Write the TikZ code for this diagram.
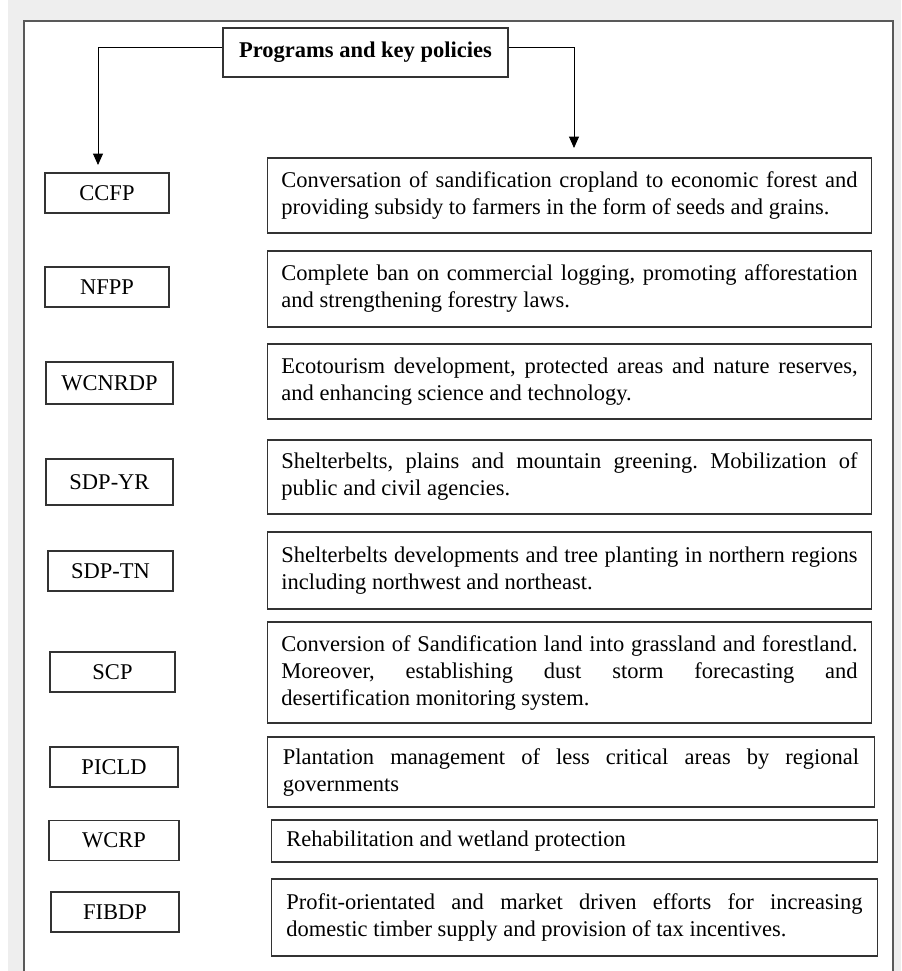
\documentclass[tikz,border=0pt]{standalone}
\usepackage{fontspec}
\setmainfont{Liberation Serif}
\usepackage{tikz}
\usetikzlibrary{positioning}
\usetikzlibrary{arrows.meta}
\definecolor{pagegray}{HTML}{EEEEEE}
\definecolor{linegray}{HTML}{333333}
\tikzset{
every node/.style={font=\fontsize{16}{19.2}\selectfont},
prog/.style={ % Sets the properties for each program box
draw=linegray,
line width=0.8pt,
inner sep=0pt,
minimum width=3.1cm,
minimum height=1cm},
policy/.style={ % Boxes with the key policies, justified text
draw=linegray,
line width=0.8pt,
text width=14.4cm,
align=justify,
inner xsep=0.3375cm,
inner ysep=0pt},
link/.style={ % Connectors from the title
draw=black,
line width=0.6pt,
-{Triangle[width=7pt,length=8pt]}}}

\begin{document}
\frenchspacing
\hyphenpenalty=10000
\exhyphenpenalty=10000
\hbadness=10000
\begin{tikzpicture}[x=0.025cm, y=-0.025cm]
\useasboundingbox (0,0) rectangle (901,971);
\fill[pagegray] (8,0) rectangle (901,971);
\fill[white] (24,21) rectangle (893,971);
\draw[black!65, line width=0.8pt] (24,971) -- (24,21) -- (893,21) -- (893,971);

\node[prog , minimum width=7.125cm, minimum height=1.225cm] (title) at (365.5,52.5) {\textbf{Programs and key policies}};
\coordinate (lefttip) at (98,165);
\coordinate (righttip) at (574,148);

% programs
\node[prog ] (ccfp) at (107,193) {CCFP};
\node[prog ] (nfpp) at (107,287) {NFPP};
\node[prog , minimum width=3.175cm, minimum height=1.05cm] (wcnrdp) at (109.5,383) {WCNRDP};
\node[prog , minimum width=3.175cm, minimum height=1.15cm] (sdpyr) at (109.5,482) {SDP-YR};
\node[prog , minimum width=3.125cm] (sdptn) at (110.5,571) {SDP-TN};
\node[prog , minimum width=3.125cm] (scp) at (112.5,672) {SCP};
\node[prog , minimum width=3.2cm] (picld) at (114,767) {PICLD};
\node[prog , minimum width=3.25cm] (wcrp) at (114,840.5) {WCRP};
\node[prog , minimum width=3.2cm] (fibdp) at (115,912) {FIBDP};

% key policies
\node[policy , minimum height=1.875cm] (ccfptext) at (569.5,195.5) {Conversation of sandification cropland to economic forest and\linebreak providing subsidy to farmers in the form of seeds and grains.};
\node[policy , minimum height=1.9cm] (nfpptext) at (569.5,289) {Complete ban on commercial logging, promoting afforestation\linebreak and strengthening forestry laws.};
\node[policy , minimum height=1.875cm] (wcnrdptext) at (569.5,381.5) {Ecotourism development, protected areas and nature reserves,\linebreak and enhancing science and technology.};
\node[policy , minimum height=1.85cm] (sdpyrtext) at (569.5,477) {Shelterbelts, plains and mountain greening. Mobilization of\linebreak public and civil agencies.};
\node[policy , minimum height=1.925cm] (sdptntext) at (569.5,570.5) {Shelterbelts developments and tree planting in northern regions\linebreak including northwest and northeast.};
\node[policy , minimum height=2.525cm] (scptext) at (569.5,672.5) {Conversion of Sandification land into grassland and forestland.\linebreak Moreover, establishing dust storm forecasting and\linebreak desertification monitoring system.};
\node[policy , minimum height=1.75cm, minimum width=15.15cm] (picldtext) at (571,772) {Plantation management of less critical areas by regional\linebreak governments};
\node[policy , minimum height=1.05cm, minimum width=15.125cm] (wcrptext) at (574.5,841) {Rehabilitation and wetland protection};
\node[policy , minimum height=1.925cm, minimum width=15.125cm] (fibdptext) at (574.5,917.5) {Profit-orientated and market driven efforts for increasing\linebreak domestic timber supply and provision of tax incentives.};

\draw[link] ([yshift=0.1375cm]title.west) -| (lefttip);
\draw[link] ([yshift=0.1375cm]title.east) -| (righttip);
\end{tikzpicture}
\end{document}
